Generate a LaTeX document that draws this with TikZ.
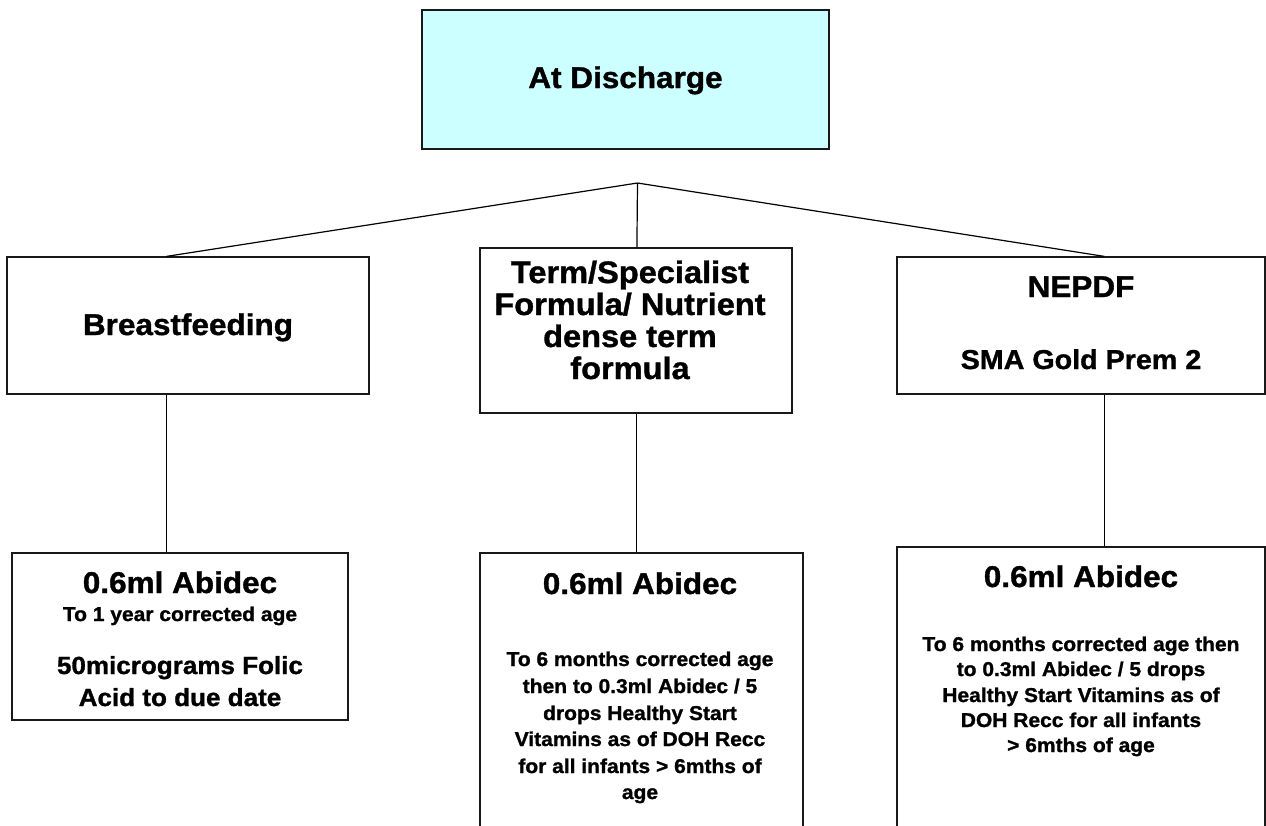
\documentclass[tikz,border=0pt]{standalone}
\usepackage{fontspec}
\setmainfont[FakeStretch=1.05,FakeBold=1.2]{Liberation Sans}
\definecolor{topfill}{HTML}{CCFFFF}
\begin{document}
\begin{tikzpicture}[x=1pt,y=-1pt,
  box/.style={draw=black!90, line width=1.2pt, rectangle, inner sep=0pt},
  conn/.style={draw=black, line width=1.2pt},
  txt/.style={anchor=base, inner sep=0pt},
  big/.style={txt, font=\fontsize{30}{34}\selectfont\bfseries},
  mtop/.style={txt, font=\fontsize{31}{34}\selectfont\bfseries},
  sub/.style={txt, font=\fontsize{27.3}{30}\selectfont\bfseries},
  med/.style={txt, font=\fontsize{24.8}{28}\selectfont\bfseries},
  sml/.style={txt, font=\fontsize{20}{23}\selectfont\bfseries}]
\useasboundingbox (0,0) rectangle (1266,825);
\clip (0,0) rectangle (1266,825);
% boxes
\node[box, fill=topfill, minimum width=407pt, minimum height=139pt] (top) at (625.5,79.5) {};
\node[box, minimum width=362pt, minimum height=137pt] (bf) at (188,325.5) {};
\node[box, minimum width=312pt, minimum height=165pt] (tf) at (636,330.5) {};
\node[box, minimum width=368pt, minimum height=137pt] (ne) at (1081,325.5) {};
\node[box, minimum width=336pt, minimum height=167pt] (lb) at (180,636.5) {};
\node[box, minimum width=323pt, minimum height=297pt] (mb) at (641.5,701.5) {};
\node[box, minimum width=368pt, minimum height=303pt] (rb) at (1081,698.5) {};
% connectors
\coordinate (apex) at (637.5,183);
\draw[conn] (apex) -- ([xshift=160pt]bf.north west);
\draw[conn] (apex) -- ([xshift=157.5pt]tf.north west);
\draw[conn] (apex) -- ([xshift=208pt]ne.north west);
\draw[conn] ([xshift=160pt]bf.south west) -- ([xshift=155pt]lb.north west);
\draw[conn] ([xshift=157pt]tf.south west) -- ([xshift=157pt]mb.north west);
\draw[conn] ([xshift=208pt]ne.south west) -- ([xshift=208pt]rb.north west);
% texts
\node[big] (t-top) at (625.5,88) {At Discharge};
\node[big] (t-bf) at (188,335) {Breastfeeding};
\node[mtop] (t-tf1) at (630,283) {Term/Specialist};
\node[mtop] (t-tf2) at (630,315) {Formula/ Nutrient};
\node[mtop] (t-tf3) at (630,347) {dense term};
\node[mtop] (t-tf4) at (630,379) {formula};
\node[big] (t-ne1) at (1081,297) {NEPDF};
\node[sub] (t-ne2) at (1081,369) {SMA Gold Prem 2};
\node[big] (t-lb1) at (180,593) {0.6ml Abidec};
\node[sml] (t-lb2) at (180,621) {To 1 year corrected age};
\node[med] (t-lb3) at (180,674) {50micrograms Folic};
\node[med] (t-lb4) at (180,706) {Acid to due date};
\node[big] (t-mb1) at (640,594) {0.6ml Abidec};
\node[sml] (t-mb2) at (640,666) {To 6 months corrected age};
\node[sml] (t-mb3) at (640,693) {then to 0.3ml Abidec / 5};
\node[sml] (t-mb4) at (640,720) {drops Healthy Start};
\node[sml] (t-mb5) at (640,746) {Vitamins as of DOH Recc};
\node[sml] (t-mb6) at (640,773) {for all infants > 6mths of};
\node[sml] (t-mb7) at (640,799) {age};
\node[big] (t-rb1) at (1081,587) {0.6ml Abidec};
\node[sml] (t-rb2) at (1081,651) {To 6 months corrected age then};
\node[sml] (t-rb3) at (1081,676) {to 0.3ml Abidec / 5 drops};
\node[sml] (t-rb4) at (1081,702) {Healthy Start Vitamins as of};
\node[sml] (t-rb5) at (1081,727) {DOH Recc for all infants};
\node[sml] (t-rb6) at (1081,752) {> 6mths of age};
\end{tikzpicture}
\end{document}
